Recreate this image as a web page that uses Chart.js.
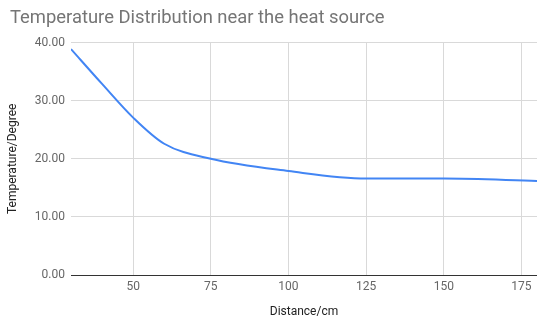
<!DOCTYPE html>
<html>
<head>
<meta charset="utf-8">
<script src="https://cdn.jsdelivr.net/npm/chart.js@4"></script>
<style>
  html, body { margin: 0; padding: 0; background: #fff; }
  #wrap { width: 537px; height: 322px; }
</style>
</head>
<body>
<div id="wrap"><canvas id="c" width="537" height="322"></canvas></div>
<script>
const distances = [30, 40, 50, 60, 75, 100, 125, 150, 180];
const temperatures = [38.9, 32.9, 27.1, 22.6, 20.0, 17.9, 16.6, 16.6, 16.2];
const xTickValues = [50, 75, 100, 125, 150, 175];
const yTickValues = [0, 10, 20, 30, 40];

const FONT = 'Roboto, "Liberation Sans", sans-serif';

new Chart(document.getElementById('c'), {
  type: 'line',
  data: {
    datasets: [{
      data: distances.map((d, i) => ({ x: d, y: temperatures[i] })),
      borderColor: '#4285F4',
      borderWidth: 2,
      pointRadius: 0,
      fill: false,
      cubicInterpolationMode: 'monotone'
    }]
  },
  options: {
    responsive: false,
    animation: false,
    devicePixelRatio: 1,
    layout: { padding: { left: 10, right: 0, top: 0, bottom: 0 } },
    plugins: {
      legend: { display: false },
      tooltip: { enabled: false },
      title: {
        display: true,
        text: 'Temperature Distribution near the heat source',
        align: 'start',
        color: '#757575',
        font: { family: FONT, size: 18.4, weight: 'normal' },
        padding: { top: 7, bottom: 13.6 }
      }
    },
    scales: {
      x: {
        type: 'linear',
        min: 30,
        max: 180,
        afterBuildTicks: s => { s.ticks = xTickValues.map(v => ({ value: v })); },
        afterFit: s => { s.height = 47; },
        grid: { color: '#d9d9d9', drawTicks: false },
        border: { display: true, color: '#333333', width: 1 },
        ticks: { color: '#666666', font: { family: FONT, size: 12 }, padding: 5, maxRotation: 0 },
        title: {
          display: true,
          text: 'Distance/cm',
          color: '#222222',
          font: { family: FONT, size: 12 },
          padding: { top: 3, bottom: 3 }
        }
      },
      y: {
        min: 0,
        max: 40,
        afterBuildTicks: s => { s.ticks = yTickValues.map(v => ({ value: v })); },
        afterFit: s => { s.width = 61; },
        grid: { color: '#d9d9d9', drawTicks: false },
        border: { display: false },
        ticks: {
          color: '#666666',
          font: { family: FONT, size: 12 },
          padding: 6,
          callback: v => Number(v).toFixed(2)
        },
        title: {
          display: true,
          text: 'Temperature/Degree',
          color: '#222222',
          font: { family: FONT, size: 12 },
          padding: { top: -4, bottom: -4 }
        }
      }
    }
  }
});
</script>
</body>
</html>
